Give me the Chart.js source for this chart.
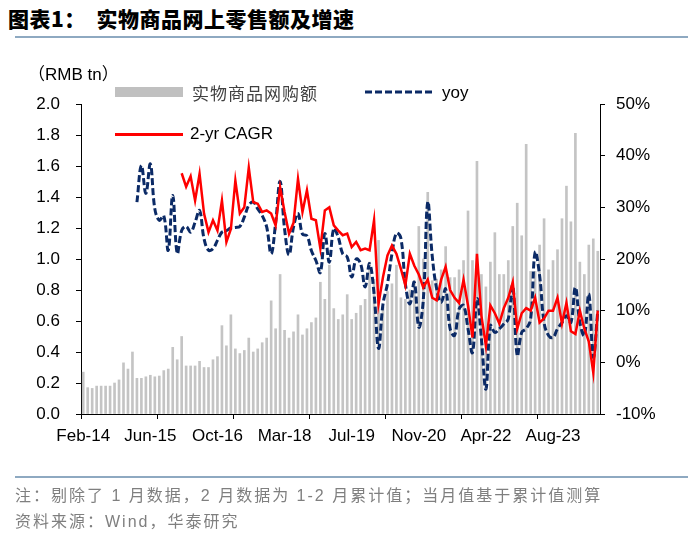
<!DOCTYPE html>
<html>
<head>
<meta charset="utf-8">
<script src="https://cdn.jsdelivr.net/npm/chart.js@4/dist/chart.umd.min.js"></script>
<style>
  body { margin: 0; width: 700px; height: 535px; background: #fff; position: relative; overflow: hidden;
         font-family: "Liberation Sans", Arial, sans-serif; }
  canvas { position: absolute; left: 0; top: 0; }
  .abs { position: absolute; white-space: nowrap; line-height: 20px; }
  .rule { position: absolute; left: 15px; width: 673px; height: 2px; background: #8EA9C1; }
  #title { left: 8px; top: 5px; font: 900 21px "Noto Sans CJK SC"; color: #000; line-height: 26px; letter-spacing: 0.5px; }
  .lg { font-size: 17px; color: #000; }
  .cjk { font-family: "Noto Sans CJK SC"; color: #404040; letter-spacing: 1px; }
  .note { left: 15px; font: 16px "Liberation Sans", "Noto Sans CJK SC"; color: #7F7F7F; letter-spacing: 2px; }
</style>
</head>
<body>
<div id="title" class="abs">图表1：&nbsp;&nbsp;实物商品网上零售额及增速</div>
<div class="rule" style="top:36px"></div>

<canvas id="myChart" width="700" height="535"></canvas>

<div class="abs lg" style="left:28px;top:65px;font-family:'Liberation Sans','Noto Sans CJK SC'">（RMB tn）</div>
<div class="abs" style="left:115px;top:87px;width:68px;height:10px;background:#C0C0C0"></div>
<div class="abs lg cjk" style="left:192px;top:83px">实物商品网购额</div>
<svg class="abs" style="left:365px;top:90px" width="70" height="4"><line x1="0" y1="2" x2="70" y2="2" stroke="#0B2A66" stroke-width="3" stroke-dasharray="7 3"/></svg>
<div class="abs lg" style="left:442px;top:83px">yoy</div>
<div class="abs" style="left:115px;top:133px;width:68px;height:3px;background:#FF0000"></div>
<div class="abs lg" style="left:190px;top:124px">2-yr CAGR</div>

<div class="rule" style="top:476px"></div>
<div class="abs note" style="top:482px">注：剔除了 1 月数据，2 月数据为 1-2 月累计值；当月值基于累计值测算</div>
<div class="abs note" style="top:508px">资料来源：Wind，华泰研究</div>

<script>
// months without January, Feb-14 .. Jul-24
const months = ['Feb', 'Mar', 'Apr', 'May', 'Jun', 'Jul', 'Aug', 'Sep', 'Oct', 'Nov', 'Dec'];
const years = ['14', '15', '16', '17', '18', '19', '20', '21', '22', '23', '24'];
const lastMonth = 'Jul-24';

// 实物商品网购额, RMB tn
const amount = [
  0.27, 0.17, 0.165, 0.18, 0.18, 0.18, 0.18, 0.20, 0.22, 0.33, 0.29,
  0.40, 0.23, 0.23, 0.24, 0.25, 0.24, 0.245, 0.28, 0.29, 0.43, 0.35,
  0.50, 0.31, 0.31, 0.31, 0.34, 0.30, 0.30, 0.35, 0.37, 0.57, 0.44,
  0.64, 0.42, 0.39, 0.41, 0.49, 0.40, 0.42, 0.46, 0.49, 0.73, 0.55,
  0.90, 0.54, 0.49, 0.53, 0.64, 0.51, 0.55, 0.59, 0.62, 0.85, 0.74,
  0.96, 0.68, 0.61, 0.64, 0.77, 0.61, 0.65, 0.70, 0.74, 0.98, 0.87,
  1.12, 0.69, 0.79, 0.84, 0.96, 0.75, 0.74, 0.80, 0.86, 1.21, 1.00,
  1.43, 0.86, 0.87, 0.93, 1.08, 0.88, 0.88, 0.93, 0.99, 1.31, 0.99,
  1.63, 0.90, 0.82, 0.98, 1.17, 0.90, 0.90, 0.99, 1.21, 1.36, 1.15,
  1.74, 0.92, 0.92, 1.09, 1.26, 0.93, 0.99, 1.06, 1.26, 1.47, 1.24,
  1.81, 0.98, 0.90, 1.09, 1.13, 1.05
];

// yoy %, starts Mar-15
const yoyStart = 12;
const yoy = [
  31.0, 38.1, 32.7, 38.4, 29.7, 27.5, 28.4, 21.7, 32.3, 21.1,
  25.5, 26.3, 25.2, 27.1, 29.4, 23.9, 21.7, 22.0, 23.6, 25.2,
  25.5, 26.0, 26.1, 26.3, 28.1, 30.4, 31.0, 29.7, 28.4, 26.2,
  21.0, 27.0, 35.0, 25.8, 20.8, 26.2, 28.8, 24.8, 24.5, 21.6,
  19.7, 17.4, 24.9, 19.4, 25.9, 24.2, 21.0, 20.4, 16.5, 20.0,
  19.1, 14.6, 19.1, 13.3, 2.7, 11.3, 15.2, 21.0, 25.0, 24.0,
  15.2, 11.3, 15.5, 6.8, 12.0, 31.0, 20.6, 14.2, 11.6, 14.2,
  6.5, 5.2, 10.3, 11.0, 6.5, 1.9, 12.3, 4.5, -5.2, 7.1,
  5.8, 6.5, 7.4, 8.4, 14.8, 1.3, 5.8, 6.5, 8.4, 21.3,
  16.8, 7.7, 5.2, 4.8, 6.5, 7.7, 9.0, 7.7, 14.5, 7.7,
  5.2, 13.2, 1.0, 10.0
];

// 2-yr CAGR %, starts Feb-16
const cagrStart = 22;
const cagr = [
  36.6, 34.0, 36.0, 31.3, 36.5, 28.8, 25.2, 27.5, 25.5, 31.3,
  23.3, 25.8, 35.2, 28.8, 30.0, 37.7, 31.0, 30.7, 29.1, 29.4,
  28.8, 26.5, 33.9, 29.1, 24.9, 27.0, 35.5, 29.1, 33.3, 27.8,
  27.5, 22.0, 29.4, 30.0, 26.5, 25.5, 24.6, 24.9, 22.3, 23.3,
  21.7, 22.0, 21.7, 27.5, 11.3, 16.5, 20.7, 22.6, 21.0, 18.1,
  14.9, 21.0, 18.7, 17.0, 14.5, 16.0, 12.5, 12.0, 16.0, 18.5,
  14.0, 12.5, 11.5, 16.0, 11.0, 4.8, 21.0, 9.0, 3.2, 11.0,
  9.5, 7.5, 10.5, 12.5, 15.5, 6.5, 9.5, 10.5, 10.0, 12.5,
  7.7, 8.5, 10.0, 10.0, 12.5, 7.5, 11.5, 6.0, 5.5, 10.0,
  6.5, 4.0, -2.0, 10.0
];

const categories = [];
years.forEach(y => months.forEach(m => categories.push(m + '-' + y)));
categories.length = categories.indexOf(lastMonth) + 1;

const pad = (start, arr) => new Array(start).fill(null).concat(arr);

const tickFont = { family: 'Liberation Sans', size: 17 };

const ctx = document.getElementById('myChart').getContext('2d');
const chart = new Chart(ctx, {
  data: {
    labels: categories,
    datasets: [{
      type: 'line',
      label: '2-yr CAGR',
      data: pad(cagrStart, cagr),
      yAxisID: 'y1',
      borderColor: '#FF0000',
      borderWidth: 2.5,
      pointRadius: 0,
      tension: 0,
      order: 0,
    }, {
      type: 'line',
      label: 'yoy',
      data: pad(yoyStart, yoy),
      yAxisID: 'y1',
      borderColor: '#0B2A66',
      borderWidth: 3,
      borderDash: [7, 3],
      pointRadius: 0,
      tension: 0.4,
      order: 1,
    }, {
      type: 'bar',
      label: '实物商品网购额',
      data: amount,
      yAxisID: 'y',
      backgroundColor: '#C4C4C4',
      barThickness: 2,
      order: 2,
    }],
  },
  options: {
    responsive: false,
    animation: false,
    layout: { padding: { top: 104, bottom: 81, left: 0, right: 0 } },
    plugins: { legend: { display: false }, tooltip: { enabled: false } },
    scales: {
      x: {
        offset: true,
        grid: {
          offset: true,
          drawOnChartArea: false,
          tickLength: 5,
          color: c => (c.index % 17 === 0 ? '#000' : 'rgba(0,0,0,0)'),
        },
        border: { color: '#000' },
        ticks: {
          autoSkip: false, maxRotation: 0, minRotation: 0, padding: 7,
          font: tickFont, color: '#000',
          callback: (v, i) => (i % 15 === 0 ? categories[i] : ''),
        },
        afterFit: s => { s.height = 40; },
      },
      y: {
        position: 'left',
        min: 0, max: 2,
        grid: { drawOnChartArea: false, tickLength: 5, color: '#000' },
        border: { color: '#000' },
        ticks: { stepSize: 0.2, padding: 16, font: tickFont, color: '#000', callback: v => v.toFixed(1) },
        afterFit: s => { s.width = 81; },
      },
      y1: {
        position: 'right',
        min: -10, max: 50,
        grid: { drawOnChartArea: false, tickLength: 5, color: '#000' },
        border: { color: '#000' },
        ticks: { stepSize: 10, padding: 11, font: tickFont, color: '#000', callback: v => v + '%' },
        afterFit: s => { s.width = 100; },
      },
    },
  },
});
</script>
</body>
</html>
